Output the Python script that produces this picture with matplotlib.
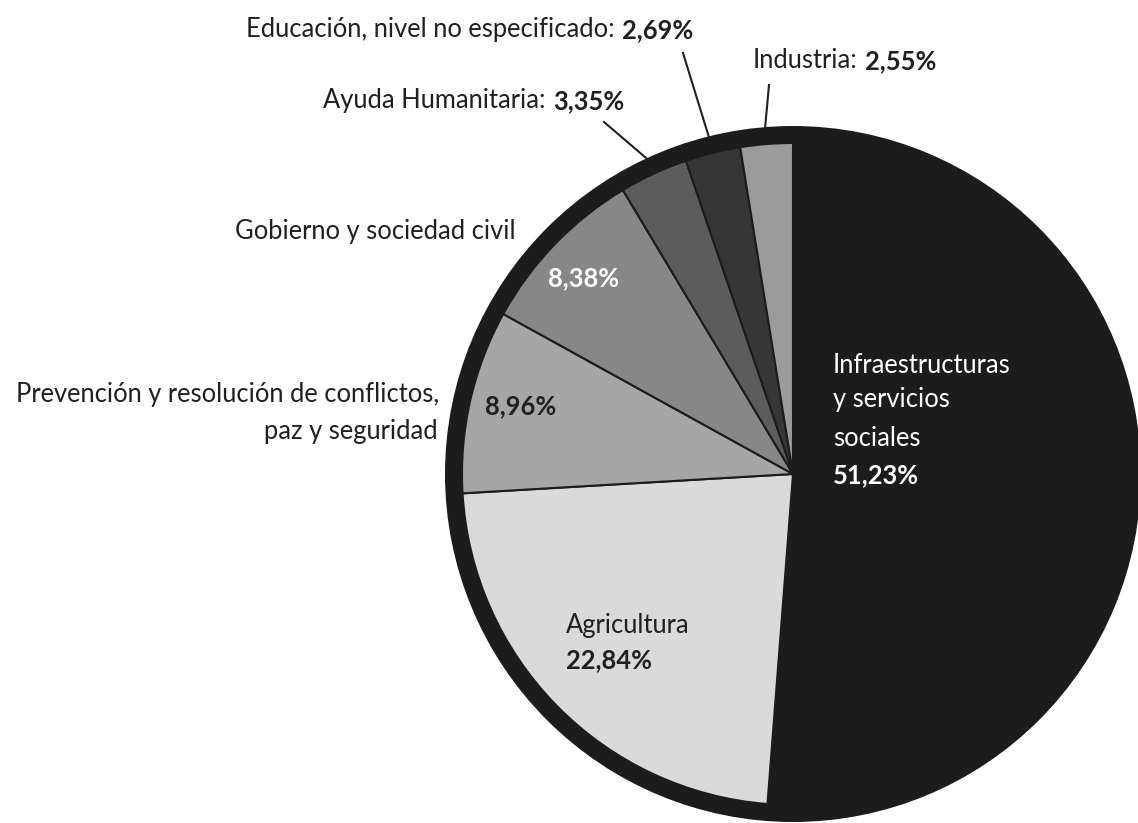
import numpy as np
import matplotlib.pyplot as plt
from matplotlib.patches import Circle

plt.rcParams['font.family'] = ['Lato', 'DejaVu Sans']

# shares by sector, clockwise from 12 o'clock
sectors = ['Infraestructuras y servicios sociales', 'Agricultura',
           'Prevención y resolución de conflictos, paz y seguridad',
           'Gobierno y sociedad civil', 'Ayuda Humanitaria',
           'Educación, nivel no especificado', 'Industria']
shares = [51.23, 22.84, 8.96, 8.38, 3.35, 2.69, 2.55]
greys = ['#1c1c1c', '#dadada', '#a6a6a6', '#878787', '#5c5c5c', '#363636', '#9b9b9b']

W, H = 1138, 823
ink = '#231f20'
ring = '#1c1c1c'
fs = 18.4


def pct(v):
    return f'{v:.2f}'.replace('.', ',') + '%'


def y(py):
    # pixel rows counted from the top
    return H - py


fig = plt.figure(figsize=(W / 100, H / 100), dpi=100)
ax = fig.add_axes([0, 0, 1, 1])

cx, cy = 793, y(474)
R_out, R_in = 348, 331
ax.add_patch(Circle((cx, cy), R_out, facecolor=ring, edgecolor='none', zorder=0))
wedges, _ = ax.pie(shares, colors=greys, startangle=90, counterclock=False,
                   radius=R_in, center=(cx, cy), frame=False,
                   wedgeprops=dict(edgecolor=ring, linewidth=1.5))
ax.set_xlim(0, W)
ax.set_ylim(0, H)
ax.set_axis_off()


def mid_point(w, r):
    a = np.deg2rad((w.theta1 + w.theta2) / 2)
    return cx + r * np.cos(a), cy + r * np.sin(a)


def label_with_value(x, py, name, value):
    t = ax.text(x, y(py), name + ':', fontsize=fs, color=ink, va='baseline', ha='left')
    ax.annotate(pct(value), xy=(1, 0), xycoords=t, xytext=(5.5, 0),
                textcoords='offset points', fontsize=fs, fontweight='bold',
                color=ink, va='bottom', ha='left')


# small slices: labels outside with leader lines
label_with_value(246, 37, sectors[5], shares[5])
label_with_value(323, 108, sectors[4], shares[4])
label_with_value(753, 68, sectors[6], shares[6])

for idx, (sx, sy) in zip([4, 5, 6], [(604, 122), (683, 53), (769, 85)]):
    ex, ey = mid_point(wedges[idx], R_out)
    ax.plot([sx, ex], [y(sy), ey], color=ink, lw=1.5, zorder=3)

# Gobierno
ax.text(235, y(239), sectors[3], fontsize=fs, color=ink, va='baseline')
ax.text(548, y(286), pct(shares[3]), fontsize=fs, fontweight='bold', color='white', va='baseline')

# Prevención
ax.text(439, y(402), 'Prevención y resolución de conflictos,', fontsize=fs, color=ink,
        va='baseline', ha='right')
ax.text(438, y(439), 'paz y seguridad', fontsize=fs, color=ink, va='baseline', ha='right')
ax.text(485, y(414), pct(shares[2]), fontsize=fs, fontweight='bold', color=ink, va='baseline')

# Infraestructuras
for line, py in zip(['Infraestructuras', 'y servicios', 'sociales'], [373, 407, 446]):
    ax.text(833, y(py), line, fontsize=fs, color='white', va='baseline')
ax.text(833, y(483), pct(shares[0]), fontsize=fs, fontweight='bold', color='white', va='baseline')

# Agricultura
ax.text(566, y(633), sectors[1], fontsize=fs, color=ink, va='baseline')
ax.text(566, y(668), pct(shares[1]), fontsize=fs, fontweight='bold', color=ink, va='baseline')

fig.savefig('out.png', dpi=100, facecolor='white')
